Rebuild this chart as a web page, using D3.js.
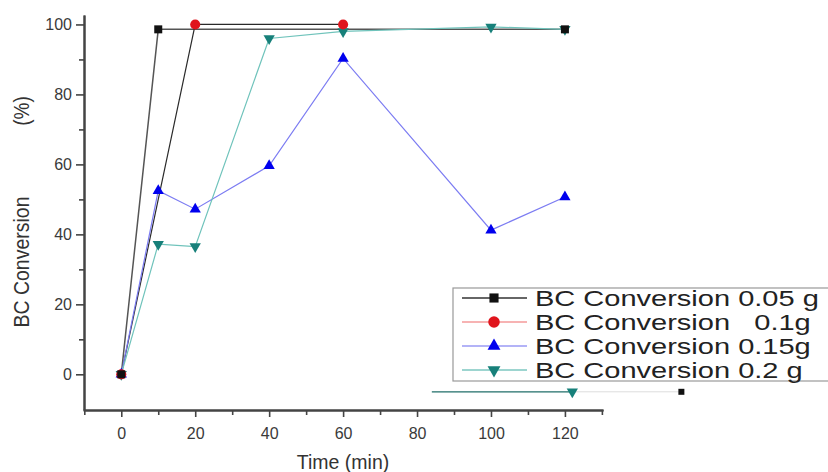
<!DOCTYPE html>
<html>
<head>
<meta charset="utf-8">
<script src="https://cdn.jsdelivr.net/npm/d3@7"></script>
<style>
  html, body { margin: 0; padding: 0; background: #fff; }
  svg { display: block; font-family: "Liberation Sans", Arial, sans-serif; }
</style>
</head>
<body>
<svg id="chart" width="828" height="472"></svg>
<script>
// ---- data ----
const seriesNames = ["BC Conversion 0.05 g", "BC Conversion   0.1g", "BC Conversion 0.15g", "BC Conversion 0.2 g"];
const time005 = [0, 10, 120];
const conv005 = [0, 98.6, 98.6];
const time01 = [0, 20, 60];
const conv01 = [0, 100, 100];
const time015 = [0, 10, 20, 40, 60, 100, 120];
const conv015 = [0, 52.5, 47.2, 59.6, 90.3, 41.2, 50.7];
const time02 = [0, 10, 20, 40, 60, 100, 120];
const conv02 = [0, 37.2, 36.5, 96, 98, 99.3, 98.6];
// stray fragment visible under the legend in the source picture
const strayTime = [84, 122, 151.5];
const strayConv = [-5, -5, -5];
const xTicks = [0, 20, 40, 60, 80, 100, 120];
const xMinorTicks = [-10, 10, 30, 50, 70, 90, 110, 130];
const yTicks = [0, 20, 40, 60, 80, 100];
const yMinorTicks = [10, 30, 50, 70, 90];
const xTitle = "Time (min)";
const yTitle = "BC Conversion";
const yUnit = "(%)";

// ---- styles ----
const styles = [
  { line: "#555", legendLine: "#333", marker: "#111", sym: d3.symbolSquare, size: 64, rot: 0 },
  { line: "#2a2a2a", legendLine: "#f49a9a", marker: "#e0141c", sym: d3.symbolCircle, size: 80, rot: 0 },
  { line: "#7c7cf2", legendLine: "#9a9af4", marker: "#0000ee", sym: d3.symbolTriangle, size: 55, rot: 0 },
  { line: "#6fc3bb", legendLine: "#7cc7c0", marker: "#17807a", sym: d3.symbolTriangle, size: 55, rot: 180 }
];
const series = [
  time005.map((t, i) => ({ t, v: conv005[i] })),
  time01.map((t, i) => ({ t, v: conv01[i] })),
  time015.map((t, i) => ({ t, v: conv015[i] })),
  time02.map((t, i) => ({ t, v: conv02[i] }))
];

const svg = d3.select("#chart");
const x = d3.scaleLinear().domain([-10.3, 130.3]).range([83.2, 603]);
const y = d3.scaleLinear().domain([-10.2, 102.7]).range([410, 15]);
const axisColor = "#444";

// ---- axes ----
const gx = svg.append("g").attr("transform", `translate(0,${y(-10.2)})`)
  .call(d3.axisBottom(x).tickValues(xTicks).tickSize(7).tickPadding(11).tickSizeOuter(0));
const gxm = svg.append("g").attr("transform", `translate(0,${y(-10.2)})`)
  .call(d3.axisBottom(x).tickValues(xMinorTicks).tickSize(5).tickFormat("").tickSizeOuter(0));
const gy = svg.append("g").attr("transform", `translate(${x(-10.3) + 0.8},0)`)
  .call(d3.axisLeft(y).tickValues(yTicks).tickSize(8).tickPadding(4).tickSizeOuter(0));
const gym = svg.append("g").attr("transform", `translate(${x(-10.3) + 0.8},0)`)
  .call(d3.axisLeft(y).tickValues(yMinorTicks).tickSize(5).tickFormat("").tickSizeOuter(0));
[gx, gxm, gy, gym].forEach(g => {
  g.select(".domain").attr("stroke", axisColor).attr("stroke-width", 2);
  g.selectAll(".tick line").attr("stroke", axisColor).attr("stroke-width", 1.6);
  g.selectAll(".tick text").attr("fill", "#3a3a3a").style("font-size", "16px")
    .style("font-family", "'Liberation Sans', Arial, sans-serif");
});

// axis titles
svg.append("text").attr("x", 343).attr("y", 469).attr("text-anchor", "middle")
  .style("font-size", "19.5px").attr("fill", "#333").text(xTitle);
svg.append("text").attr("transform", `translate(29,262) rotate(-90) scale(1,1.15)`)
  .attr("text-anchor", "middle").style("font-size", "19.5px").attr("fill", "#333").text(yTitle);
svg.append("text").attr("transform", `translate(29,111) rotate(-90) scale(1,1.15)`)
  .attr("text-anchor", "middle").style("font-size", "19px").attr("fill", "#333").text(yUnit);

// ---- lines ----
const line = d3.line().x(d => x(d.t)).y(d => y(d.v));
series.forEach((s, i) => {
  svg.append("path").datum(s).attr("d", line).attr("fill", "none")
    .attr("stroke", styles[i].line).attr("stroke-width", i === 0 ? 1.5 : 1.2);
});

// ---- markers (teal first so black/red sit on top) ----
[3, 2, 1, 0].forEach(i => {
  const st = styles[i];
  svg.append("g").selectAll("path").data(series[i]).join("path")
    .attr("d", d3.symbol().type(st.sym).size(st.size))
    .attr("transform", d => `translate(${x(d.t)},${y(d.v)}) rotate(${st.rot})`)
    .attr("fill", st.marker);
});

// ---- stray fragment ----
const stray = strayTime.map((t, i) => ({ t, v: strayConv[i] }));
svg.append("path").datum(stray.slice(0, 2)).attr("d", line).attr("fill", "none")
  .attr("stroke", "#1f6e69").attr("stroke-width", 1.3);
svg.append("path").datum(stray.slice(1, 3)).attr("d", line).attr("fill", "none")
  .attr("stroke", "#ddd").attr("stroke-width", 1);
svg.append("path").attr("d", d3.symbol().type(d3.symbolTriangle).size(55))
  .attr("transform", `translate(${x(stray[1].t)},${y(stray[1].v)}) rotate(180)`).attr("fill", "#17807a");
svg.append("path").attr("d", d3.symbol().type(d3.symbolSquare).size(36))
  .attr("transform", `translate(${x(stray[2].t)},${y(stray[2].v)})`).attr("fill", "#111");

// ---- legend ----
const lg = svg.append("g");
lg.append("rect").attr("x", 453).attr("y", 288).attr("width", 390).attr("height", 93)
  .attr("fill", "#fff").attr("stroke", "#999").attr("stroke-width", 1.2);
const rowY = [298, 322, 346, 370];
seriesNames.forEach((name, i) => {
  const st = styles[i];
  lg.append("line").attr("x1", 462).attr("x2", 527).attr("y1", rowY[i]).attr("y2", rowY[i])
    .attr("stroke", st.legendLine).attr("stroke-width", 1.3);
  lg.append("path").attr("d", d3.symbol().type(st.sym).size(st.size * 1.3))
    .attr("transform", `translate(494,${rowY[i]}) rotate(${st.rot})`).attr("fill", st.marker);
  lg.append("text").attr("transform", `translate(535,${rowY[i] + 8}) scale(1.29,1)`)
    .style("font-size", "22.5px").style("white-space", "pre").attr("fill", "#222").text(name);
});
</script>
</body>
</html>
